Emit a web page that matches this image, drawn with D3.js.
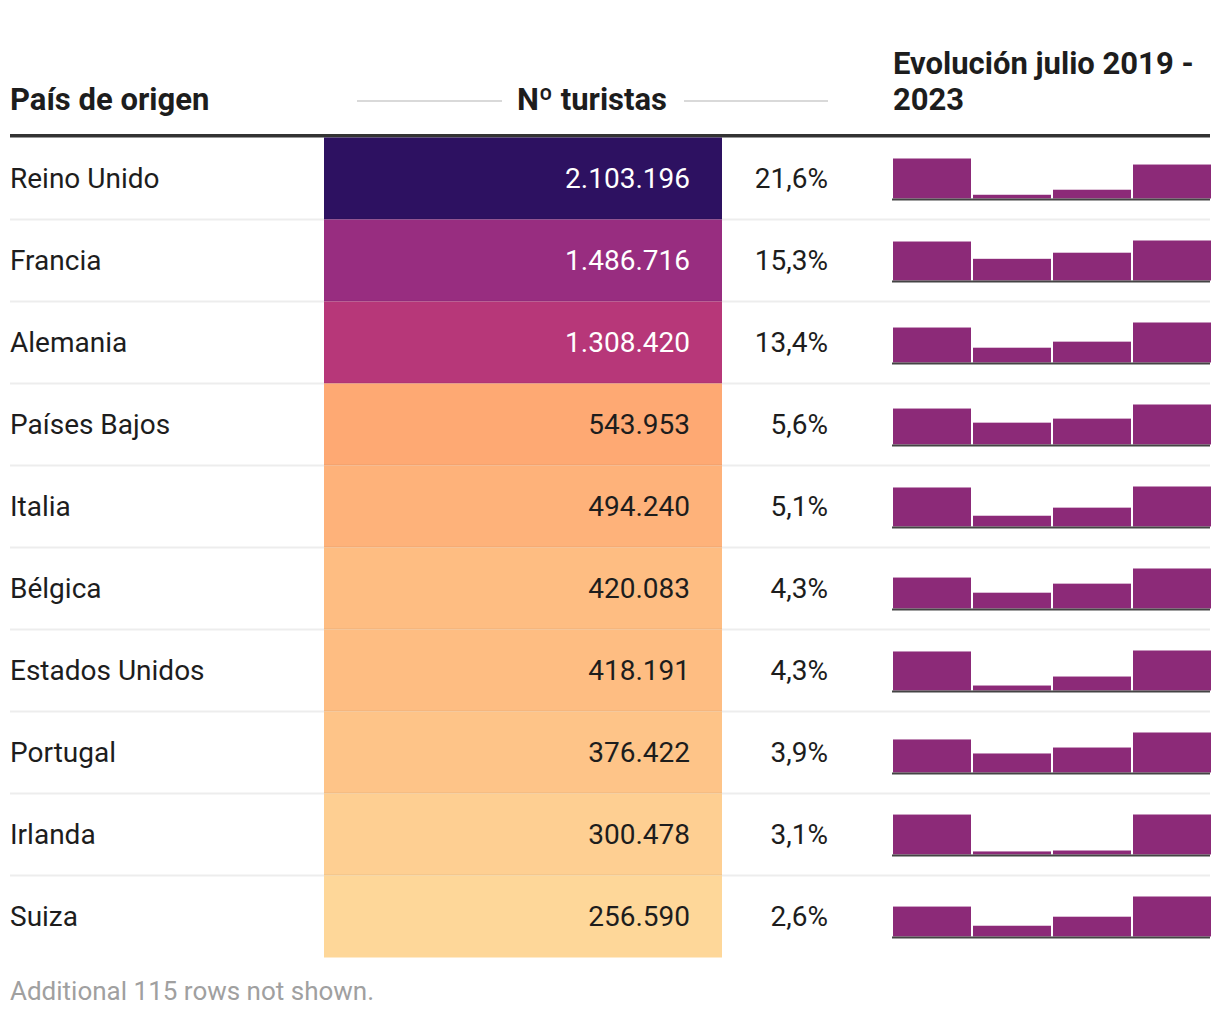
<!DOCTYPE html>
<html>
<head>
<meta charset="utf-8">
<script src="https://cdn.jsdelivr.net/npm/d3@7"></script>
<style>
  html, body { margin: 0; padding: 0; background: #fff; }
  svg { display: block; font-family: Roboto, "Noto Sans", sans-serif; }
</style>
</head>
<body>
<svg id="chart" width="1220" height="1016"></svg>
<script>
// ---- data ----
const countries = ["Reino Unido", "Francia", "Alemania", "Países Bajos", "Italia",
                   "Bélgica", "Estados Unidos", "Portugal", "Irlanda", "Suiza"];
const tourists = [2103196, 1486716, 1308420, 543953, 494240,
                  420083, 418191, 376422, 300478, 256590];
const shares = [21.6, 15.3, 13.4, 5.6, 5.1, 4.3, 4.3, 3.9, 3.1, 2.6];
const years = ["2019", "2020", "2021", "2023"];
// July tourist counts per year (estimated from the mini bars)
const evolution = [
  [2477000, 231000, 543000, 2103196],
  [1449000, 806000, 1033000, 1486716],
  [1144000, 484000, 682000, 1308420],
  [489000, 297000, 352000, 543953],
  [482000, 133000, 233000, 494240],
  [325000, 166000, 261000, 420083],
  [408000, 52000, 146000, 418191],
  [311000, 179000, 235000, 376422],
  [300000, 23000, 30000, 300478],
  [192000, 69000, 127000, 256590]
];
const headers = { country: "País de origen", tourists: "Nº turistas",
                  evoLines: ["Evolución julio 2019 -", "2023"] };
const footnote = "Additional 115 rows not shown.";

// ---- layout ----
const svg = d3.select("#chart");
const left = 10, right = 1210;
const tableTop = 137.5, rowH = 82;
const cellX0 = 324, cellX1 = 722;
const numX = 690, pctX = 828;
const sparkX0 = 893, sparkX1 = 1211, sparkH = 40, sparkBottomPad = 21;
const bodySize = 28, headSize = 31;

const rowY = d3.scaleBand().domain(d3.range(countries.length))
  .range([tableTop, tableTop + rowH * countries.length]);

const colorT = d3.scaleLinear()
  .domain([0, 543953, 1308420, 2103196])
  .range([1.0, 0.82, 0.50, 0.17]);
const fill = v => d3.interpolateMagma(colorT(v));

const loc = d3.formatLocale({ decimal: ",", thousands: ".", grouping: [3], currency: ["", "€"] });
const fmtInt = loc.format(",d");
const fmtPct = v => loc.format(".1f")(v) + "%";

// ---- header ----
svg.append("text").attr("x", left).attr("y", 110)
  .attr("font-size", headSize).attr("font-weight", 700).attr("fill", "#1d1d1d")
  .text(headers.country);

svg.append("text").attr("x", 592).attr("y", 110).attr("text-anchor", "middle")
  .attr("font-size", headSize).attr("font-weight", 700).attr("fill", "#1d1d1d")
  .text(headers.tourists);
svg.append("line").attr("x1", 357).attr("x2", 502).attr("y1", 101).attr("y2", 101)
  .attr("stroke", "#cccccc").attr("stroke-width", 1.5);
svg.append("line").attr("x1", 684).attr("x2", 828).attr("y1", 101).attr("y2", 101)
  .attr("stroke", "#cccccc").attr("stroke-width", 1.5);

svg.append("text").attr("x", sparkX0).attr("font-size", headSize).attr("font-weight", 700)
  .attr("fill", "#1d1d1d")
  .selectAll("tspan").data(headers.evoLines).join("tspan")
  .attr("x", sparkX0).attr("y", (d, i) => 74 + i * 36).text(d => d);

svg.append("rect").attr("x", left).attr("y", 134).attr("width", right - left).attr("height", 3.5)
  .attr("fill", "#333333");

// ---- rows ----
const rows = svg.append("g").selectAll("g.row").data(countries).join("g")
  .attr("class", "row")
  .attr("transform", (d, i) => `translate(0,${rowY(i)})`);

rows.append("rect").attr("x", cellX0).attr("y", 0)
  .attr("width", cellX1 - cellX0).attr("height", rowH)
  .attr("fill", (d, i) => fill(tourists[i]));

rows.append("text").attr("x", left).attr("y", rowH / 2).attr("dy", "0.35em")
  .attr("font-size", bodySize).attr("fill", "#1d1d1d").text(d => d);

rows.append("text").attr("x", numX).attr("y", rowH / 2).attr("dy", "0.35em")
  .attr("text-anchor", "end").attr("font-size", bodySize)
  .attr("fill", (d, i) => i < 3 ? "#ffffff" : "#1d1d1d")
  .text((d, i) => fmtInt(tourists[i]));

rows.append("text").attr("x", pctX).attr("y", rowH / 2).attr("dy", "0.35em")
  .attr("text-anchor", "end").attr("font-size", bodySize).attr("fill", "#1d1d1d")
  .text((d, i) => fmtPct(shares[i]));

// sparklines
const xSpark = d3.scaleBand().domain(years).range([sparkX0, sparkX1]).paddingInner(0.025);
rows.each(function(d, i) {
  const g = d3.select(this);
  const vals = evolution[i];
  const y = d3.scaleLinear().domain([0, d3.max(vals)]).range([0, sparkH]);
  const base = rowH - sparkBottomPad;
  g.selectAll("rect.bar").data(vals).join("rect").attr("class", "bar")
    .attr("x", (v, j) => xSpark(years[j]))
    .attr("width", xSpark.bandwidth())
    .attr("y", v => base - y(v))
    .attr("height", v => y(v))
    .attr("fill", "#8c2a78");
  g.append("rect").attr("x", sparkX0 - 1).attr("y", base)
    .attr("width", sparkX1 - sparkX0).attr("height", 2).attr("fill", "#444444");
});

// row separators
rows.filter((d, i) => i < countries.length - 1).append("rect")
  .attr("x", left).attr("y", rowH - 1).attr("width", right - left).attr("height", 2)
  .attr("fill", "rgba(0,0,0,0.07)");

// ---- footnote ----
svg.append("text").attr("x", left).attr("y", 1000)
  .attr("font-size", 26).attr("fill", "#a0a0a0").text(footnote);
</script>
</body>
</html>
